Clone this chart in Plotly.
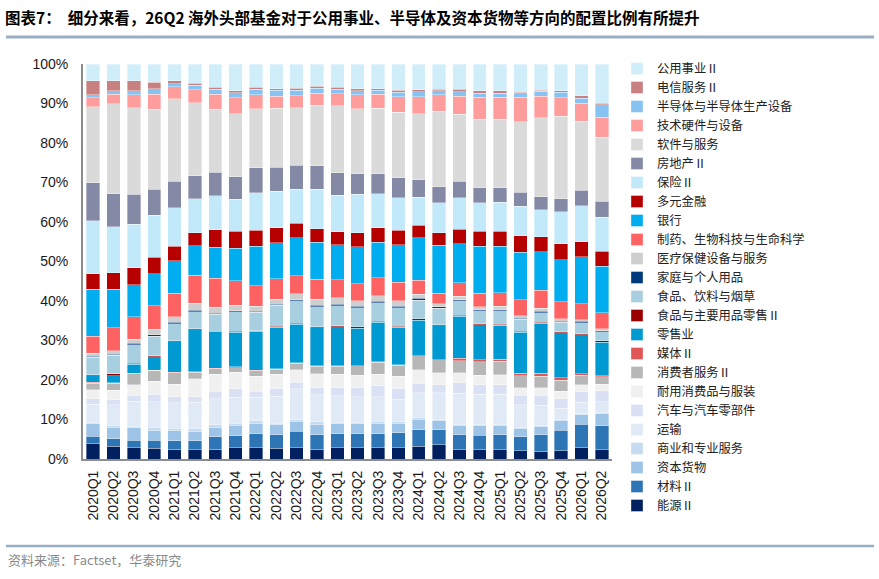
import plotly.graph_objects as go

quarters = [
    "2020Q1", "2020Q2", "2020Q3", "2020Q4", "2021Q1", "2021Q2", "2021Q3", "2021Q4",
    "2022Q1", "2022Q2", "2022Q3", "2022Q4", "2023Q1", "2023Q2", "2023Q3", "2023Q4",
    "2024Q1", "2024Q2", "2024Q3", "2024Q4", "2025Q1", "2025Q2", "2025Q3", "2025Q4",
    "2026Q1", "2026Q2",
]

# allocation share (%) per sector, bottom of the stack first
energy = [3.9, 3.2, 2.9, 2.7, 2.4, 2.3, 2.5, 2.9, 2.9, 2.7, 2.9, 2.5, 2.9, 2.9, 2.9, 2.9, 3.3, 3.6, 2.3, 2.4, 2.3, 2.1, 2.0, 2.1, 3.0, 2.4]
materials = [1.9, 1.9, 1.9, 2.1, 2.2, 2.4, 3.1, 3.0, 3.5, 3.5, 4.1, 3.7, 3.5, 3.5, 3.5, 3.8, 4.1, 3.8, 3.8, 3.6, 3.8, 3.6, 4.2, 5.2, 5.9, 6.1]
capital_goods = [3.1, 2.9, 3.1, 2.5, 2.5, 2.3, 2.4, 2.6, 2.7, 2.5, 2.4, 2.6, 2.5, 2.5, 2.7, 2.4, 2.7, 2.4, 2.5, 2.5, 2.5, 2.1, 2.1, 2.5, 2.4, 3.0]
commercial = [0.4, 0.4, 0.4, 0.6, 0.6, 0.7, 0.7, 0.6, 0.6, 0.4, 0.6, 0.6, 0.4, 0.4, 0.4, 0.4, 0.4, 0.2, 0.2, 0.2, 0.2, 0.2, 0.2, 0.2, 0.2, 0.4]
transport = [4.6, 5.3, 6.3, 6.6, 6.5, 6.7, 6.6, 6.6, 5.9, 6.8, 7.8, 6.9, 6.8, 6.5, 6.3, 5.7, 6.3, 6.8, 7.8, 7.6, 7.6, 5.7, 5.1, 2.8, 3.0, 2.7]
autos = [1.3, 1.3, 1.5, 1.9, 1.5, 1.5, 1.9, 2.1, 1.5, 2.0, 1.6, 1.7, 2.0, 2.3, 2.7, 2.7, 2.5, 2.1, 2.7, 2.4, 2.4, 2.5, 2.5, 2.5, 2.8, 2.7]
durables = [2.3, 2.4, 2.7, 3.3, 3.2, 4.5, 4.2, 4.2, 3.8, 3.5, 3.2, 3.6, 3.5, 3.2, 3.0, 3.1, 3.4, 3.0, 2.5, 2.5, 2.5, 1.9, 1.9, 1.9, 1.7, 1.7]
consumer_services = [1.7, 1.8, 2.8, 2.7, 2.9, 1.7, 1.5, 1.2, 1.5, 1.3, 1.7, 1.9, 2.0, 2.3, 3.0, 2.8, 3.5, 3.3, 3.0, 3.4, 3.4, 3.0, 3.0, 2.8, 2.4, 1.9]
media = [0.2, 0.1, 0.1, 0.1, 0.1, 0.1, 0.1, 0.2, 0.1, 0.1, 0.1, 0.1, 0.1, 0.1, 0.1, 0.1, 0.1, 0.1, 0.7, 0.5, 0.5, 0.6, 0.7, 0.6, 0.3, 0.2]
retailing = [1.6, 1.7, 2.2, 3.3, 7.7, 10.7, 9.2, 8.8, 9.8, 10.5, 9.7, 9.6, 9.9, 9.5, 10.0, 9.5, 9.0, 8.6, 10.6, 8.8, 8.6, 10.4, 12.7, 11.4, 10.0, 8.6]
staples_retail = [0.3, 0.5, 0.3, 0.3, 0.2, 0.3, 0.2, 0.2, 0.2, 0.3, 0.3, 0.3, 0.3, 0.3, 0.3, 0.3, 0.3, 0.3, 0.3, 0.3, 0.3, 0.3, 0.3, 0.3, 0.3, 0.3]
food_bev = [4.4, 4.7, 4.7, 5.0, 4.4, 4.3, 4.2, 4.9, 4.6, 5.3, 5.7, 5.1, 5.1, 4.9, 4.7, 4.7, 4.8, 4.2, 3.6, 3.2, 3.4, 3.0, 2.4, 2.3, 2.8, 2.3]
household = [0.3, 0.3, 0.3, 0.3, 0.3, 0.3, 0.3, 0.3, 0.3, 0.3, 0.3, 0.4, 0.3, 0.3, 0.3, 0.3, 0.5, 0.4, 0.3, 0.3, 0.3, 0.3, 0.3, 0.3, 0.3, 0.3]
healthcare_eq = [0.8, 0.8, 1.1, 1.4, 1.4, 1.8, 1.5, 1.4, 1.3, 1.3, 1.5, 1.5, 1.7, 1.4, 1.4, 1.4, 1.0, 0.7, 0.8, 0.8, 0.8, 0.6, 0.8, 0.7, 0.4, 0.5]
pharma = [4.2, 5.9, 5.7, 6.0, 5.9, 7.1, 7.3, 6.2, 5.2, 5.1, 4.6, 5.1, 4.5, 4.4, 4.6, 4.7, 3.5, 2.7, 3.5, 3.4, 3.4, 4.1, 4.6, 4.2, 4.1, 4.0]
banks = [11.9, 9.7, 8.0, 8.0, 8.3, 7.5, 7.9, 8.2, 10.0, 9.2, 9.6, 9.3, 8.9, 9.3, 9.0, 9.6, 10.8, 12.2, 9.9, 11.8, 11.8, 12.0, 9.7, 10.7, 12.0, 11.8]
div_financials = [4.0, 4.2, 4.3, 4.2, 3.6, 3.4, 4.4, 4.4, 4.0, 3.8, 3.6, 3.5, 3.4, 3.6, 3.7, 3.6, 3.2, 3.2, 3.6, 3.8, 3.8, 4.2, 3.8, 4.1, 3.9, 3.8]
insurance = [13.3, 11.6, 11.0, 10.7, 9.7, 8.6, 8.6, 8.1, 9.5, 9.2, 8.7, 10.0, 9.3, 9.7, 8.5, 8.3, 7.1, 7.6, 8.0, 7.3, 7.3, 7.4, 6.9, 8.0, 9.1, 8.7]
real_estate = [9.7, 8.3, 7.6, 6.5, 6.7, 5.9, 6.0, 5.7, 6.3, 6.1, 6.1, 5.9, 5.7, 5.3, 5.1, 5.1, 4.5, 4.1, 4.1, 3.7, 3.7, 3.6, 3.2, 3.3, 4.0, 4.0]
software = [19.2, 22.7, 21.9, 20.3, 20.8, 18.6, 15.9, 16.0, 15.0, 14.9, 14.5, 15.4, 17.0, 16.5, 16.6, 16.5, 16.7, 19.2, 17.0, 17.3, 17.3, 17.9, 20.1, 20.9, 17.6, 16.3]
hardware = [2.3, 2.5, 3.2, 3.7, 3.0, 3.2, 3.8, 4.0, 3.5, 3.1, 3.0, 3.0, 3.0, 3.5, 3.5, 4.0, 4.4, 4.2, 4.6, 5.6, 5.6, 6.2, 5.4, 4.8, 4.6, 5.1]
semis = [0.7, 0.8, 1.0, 1.4, 0.8, 1.2, 1.3, 1.3, 1.4, 1.4, 1.4, 1.3, 1.2, 1.0, 1.0, 1.1, 1.3, 1.0, 1.1, 1.0, 1.0, 0.8, 1.3, 1.4, 1.3, 3.1]
telecom = [3.6, 2.6, 2.6, 1.7, 0.8, 0.5, 0.5, 0.5, 0.5, 0.4, 0.5, 0.4, 0.5, 0.5, 0.4, 0.6, 0.4, 0.4, 0.6, 0.6, 0.6, 0.4, 0.3, 0.3, 0.6, 0.4]
utilities = [4.2, 4.2, 4.2, 4.6, 4.2, 4.9, 5.9, 6.8, 5.9, 6.3, 6.2, 5.7, 5.9, 6.3, 6.3, 6.6, 6.6, 6.4, 6.4, 6.8, 6.8, 7.2, 6.6, 6.8, 8.1, 10.0]

series = [
    ("能源Ⅱ", energy, "#002060"),
    ("材料Ⅱ", materials, "#2E75B6"),
    ("资本货物", capital_goods, "#9DC3E6"),
    ("商业和专业服务", commercial, "#C5DCF0"),
    ("运输", transport, "#DFEAF6"),
    ("汽车与汽车零部件", autos, "#DAE1F4"),
    ("耐用消费品与服装", durables, "#F0F0F0"),
    ("消费者服务Ⅱ", consumer_services, "#B7B7B7"),
    ("媒体Ⅱ", media, "#E05656"),
    ("零售业", retailing, "#009AD2"),
    ("食品与主要用品零售Ⅱ", staples_retail, "#9A0000"),
    ("食品、饮料与烟草", food_bev, "#A8CFDF"),
    ("家庭与个人用品", household, "#003A7D"),
    ("医疗保健设备与服务", healthcare_eq, "#CECECE"),
    ("制药、生物科技与生命科学", pharma, "#FF6262"),
    ("银行", banks, "#00AEEF"),
    ("多元金融", div_financials, "#B60000"),
    ("保险Ⅱ", insurance, "#C1E9F9"),
    ("房地产Ⅱ", real_estate, "#8489A5"),
    ("软件与服务", software, "#DADADA"),
    ("技术硬件与设备", hardware, "#FF9C9C"),
    ("半导体与半导体生产设备", semis, "#86C3F2"),
    ("电信服务Ⅱ", telecom, "#C98080"),
    ("公用事业Ⅱ", utilities, "#D0EEFA"),
]

W, H = 879, 579
L, R, T, B = 83, 267, 64, 120
PW, PH = W - L - R, H - T - B


def px_x(x):
    return (x - L) / PW


def px_y(y):
    return (H - B - y) / PH


fig = go.Figure()
for name, vals, color in series:
    fig.add_trace(go.Bar(
        x=quarters,
        y=vals,
        name=name,
        marker=dict(color=color, line=dict(color="rgba(255,255,255,0.6)", width=0.6)),
    ))

tick_font = dict(family="Liberation Sans, Arial, sans-serif", size=14, color="#1a1a1a")

fig.update_layout(
    width=W,
    height=H,
    margin=dict(l=L, r=R, t=T, b=B),
    barmode="stack",
    barnorm="percent",
    bargap=0.34,
    plot_bgcolor="white",
    paper_bgcolor="white",
    title=dict(
        text="<b>图表7：  细分来看，26Q2 海外头部基金对于公用事业、半导体及资本货物等方向的配置比例有所提升</b>",
        font=dict(family="Noto Sans CJK SC", size=15.5, color="#000000"),
        xref="container", yref="container",
        x=5 / W, y=1 - 19 / H, xanchor="left", yanchor="middle",
    ),
    legend=dict(
        traceorder="reversed",
        font=dict(family="Noto Sans CJK SC", size=12.3, color="#222222"),
        x=px_x(617), xanchor="left",
        y=px_y(54), yanchor="top",
        maxheight=520,
        bgcolor="rgba(0,0,0,0)",
    ),
    xaxis=dict(
        type="category",
        tickangle=-90,
        tickfont=tick_font,
        showline=True, linecolor="#8c8c8c", linewidth=2,
        ticks="", showgrid=False,
        ticklabelstandoff=4,
    ),
    yaxis=dict(
        range=[0, 100],
        dtick=10,
        ticksuffix="%",
        tickfont=tick_font,
        showline=True, linecolor="#8c8c8c", linewidth=2,
        ticks="", showgrid=False, zeroline=False,
        ticklabelstandoff=10,
    ),
    shapes=[
        dict(type="line", xref="paper", yref="paper",
             x0=px_x(6), x1=px_x(874), y0=px_y(37), y1=px_y(37),
             line=dict(color="#98AEC4", width=3)),
        dict(type="line", xref="paper", yref="paper",
             x0=px_x(6), x1=px_x(874), y0=px_y(546), y1=px_y(546),
             line=dict(color="#98AEC4", width=2.5)),
    ],
    annotations=[
        dict(text="资料来源：Factset，华泰研究", xref="paper", yref="paper",
             x=px_x(6), y=px_y(559), xanchor="left", yanchor="middle",
             showarrow=False,
             font=dict(family="Noto Sans CJK SC", size=13, color="#8a8a8a")),
    ],
)

fig.write_html(
    "out.html",
    config={"displayModeBar": False},
    post_script="document.body.style.margin='0';",
)
